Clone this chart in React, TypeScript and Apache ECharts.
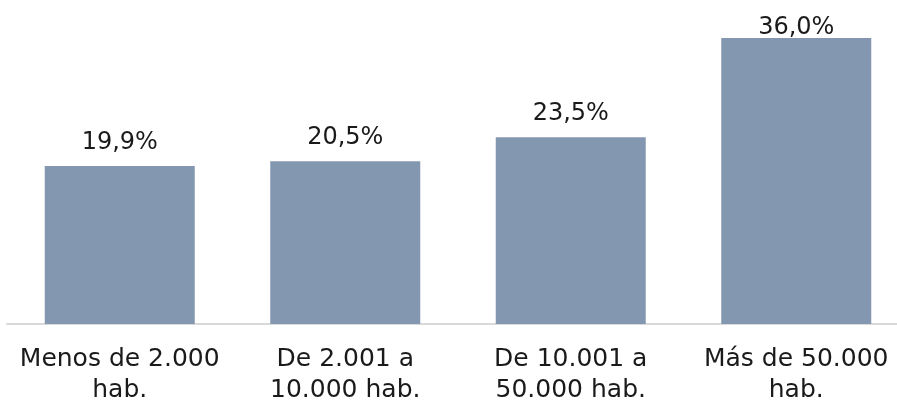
import React, { useEffect, useRef } from "react";
import * as echarts from "echarts";

const categories = ["Menos de 2.000\nhab.", "De 2.001 a\n10.000 hab.", "De 10.001 a\n50.000 hab.", "Más de 50.000\nhab."];
const values = [19.9, 20.5, 23.5, 36.0];
const labelDistances = [13, 13, 13, 0];

export default function App() {
  const ref = useRef<HTMLDivElement>(null);
  useEffect(() => {
    const chart = echarts.init(ref.current!, undefined, { renderer: "svg" });
    chart.setOption({
      animation: false,
      grid: { left: 7, width: 902, top: 38, bottom: 78, outerBoundsMode: "none", containLabel: false },
      xAxis: {
        type: "category",
        data: categories,
        axisLine: { lineStyle: { color: "#d9d9d9", width: 2 } },
        axisTick: { show: false },
        axisLabel: {
          color: "#1a1a1a",
          fontFamily: "DejaVu Sans",
          fontSize: 25,
          lineHeight: 31,
          margin: 18,
          interval: 0,
        },
      },
      yAxis: {
        type: "value",
        min: 0,
        max: 36,
        show: false,
        splitLine: { show: false },
      },
      series: [
        {
          type: "bar",
          barWidth: 150,
          itemStyle: { color: "#8497B0" },
          data: values.map((v, i) => ({
            value: v,
            label: { distance: labelDistances[i] },
          })),
          label: {
            show: true,
            position: "top",
            color: "#1a1a1a",
            fontFamily: "DejaVu Sans",
            fontSize: 24,
            formatter: (p: any) => p.value.toFixed(1).replace(".", ",") + "%",
          },
        },
      ],
    });
    return () => chart.dispose();
  }, []);
  return <div ref={ref} style={{ position: "fixed", left: 0, top: 0, width: 897, height: 402 }} />;
}
